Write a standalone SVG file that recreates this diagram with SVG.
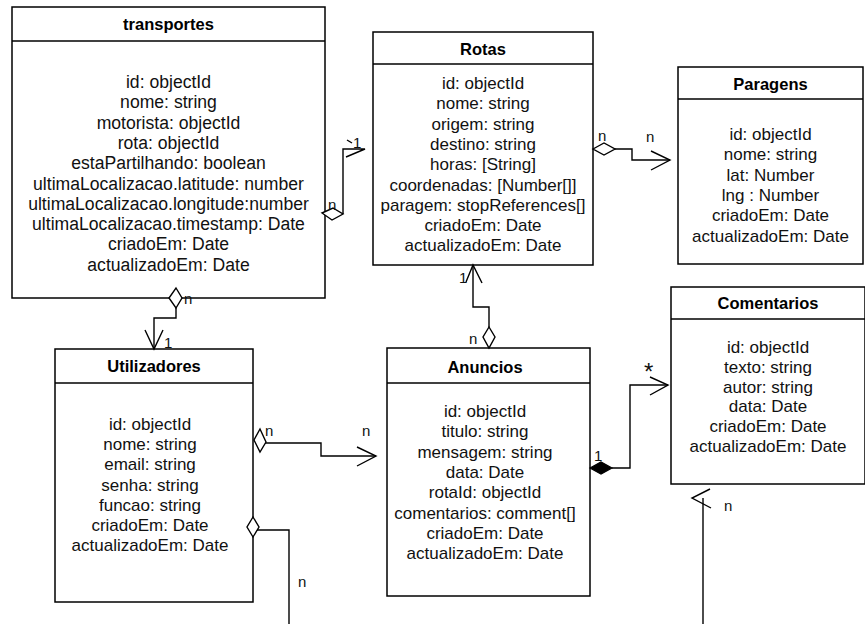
<svg xmlns="http://www.w3.org/2000/svg" width="865" height="624" viewBox="0 0 865 624">
<style>
.box{fill:#fff;stroke:#000;stroke-width:1.5}
.hl{stroke:#000;stroke-width:1.5}
.t{font-family:"Liberation Sans",Arial,sans-serif;font-size:17px;text-anchor:middle;fill:#111}
.tw{font-size:17.6px}
.h{font-family:"Liberation Sans",Arial,sans-serif;font-size:16.5px;font-weight:bold;text-anchor:middle;fill:#000}
.c{fill:none;stroke:#000;stroke-width:1.4}
.d{fill:#fff;stroke:#000;stroke-width:1.4}
.f{fill:#000;stroke:#000;stroke-width:1.2}
.l{font-family:"Liberation Sans",Arial,sans-serif;font-size:15px;fill:#111}
</style>
<rect width="865" height="624" fill="#fff"/>
<g id="transportes">
<rect class="box" x="12" y="7" width="313" height="291"/>
<line class="hl" x1="12" y1="41" x2="325" y2="41"/>
<text class="h" x="168.5" y="30">transportes</text>
<text class="t tw" x="168.5" y="88">id: objectId</text>
<text class="t tw" x="168.5" y="108.3">nome: string</text>
<text class="t tw" x="168.5" y="128.6">motorista: objectId</text>
<text class="t tw" x="168.5" y="148.9">rota: objectId</text>
<text class="t tw" x="168.5" y="169.2">estaPartilhando: boolean</text>
<text class="t tw" x="168.5" y="189.5">ultimaLocalizacao.latitude: number</text>
<text class="t tw" x="168.5" y="209.8">ultimaLocalizacao.longitude:number</text>
<text class="t tw" x="168.5" y="230.1">ultimaLocalizacao.timestamp: Date</text>
<text class="t tw" x="168.5" y="250.4">criadoEm: Date</text>
<text class="t tw" x="168.5" y="270.7">actualizadoEm: Date</text>
</g>
<g id="Rotas">
<rect class="box" x="373" y="32" width="220" height="233"/>
<line class="hl" x1="373" y1="64" x2="593" y2="64"/>
<text class="h" x="483" y="55">Rotas</text>
<text class="t" x="483" y="89">id: objectId</text>
<text class="t" x="483" y="109.3">nome: string</text>
<text class="t" x="483" y="129.6">origem: string</text>
<text class="t" x="483" y="149.9">destino: string</text>
<text class="t" x="483" y="170.2">horas: [String]</text>
<text class="t" x="483" y="190.5">coordenadas: [Number[]]</text>
<text class="t" x="483" y="210.8">paragem: stopReferences[]</text>
<text class="t" x="483" y="231.1">criadoEm: Date</text>
<text class="t" x="483" y="251.4">actualizadoEm: Date</text>
</g>
<g id="Paragens">
<rect class="box" x="678" y="67" width="185" height="197"/>
<line class="hl" x1="678" y1="99" x2="863" y2="99"/>
<text class="h" x="770.5" y="90">Paragens</text>
<text class="t" x="770.5" y="140">id: objectId</text>
<text class="t" x="770.5" y="160.3">nome: string</text>
<text class="t" x="770.5" y="180.6">lat: Number</text>
<text class="t" x="770.5" y="200.9">lng : Number</text>
<text class="t" x="770.5" y="221.2">criadoEm: Date</text>
<text class="t" x="770.5" y="241.5">actualizadoEm: Date</text>
</g>
<g id="Comentarios">
<rect class="box" x="671" y="287" width="194" height="197"/>
<line class="hl" x1="671" y1="319" x2="865" y2="319"/>
<text class="h" x="768" y="309">Comentarios</text>
<text class="t" x="768" y="353">id: objectId</text>
<text class="t" x="768" y="372.8">texto: string</text>
<text class="t" x="768" y="392.6">autor: string</text>
<text class="t" x="768" y="412.4">data: Date</text>
<text class="t" x="768" y="432.2">criadoEm: Date</text>
<text class="t" x="768" y="452">actualizadoEm: Date</text>
</g>
<g id="Utilizadores">
<rect class="box" x="55" y="349" width="198" height="253"/>
<line class="hl" x1="55" y1="383" x2="253" y2="383"/>
<text class="h" x="154" y="372">Utilizadores</text>
<text class="t" x="150" y="430">id: objectId</text>
<text class="t" x="150" y="450.2">nome: string</text>
<text class="t" x="150" y="470.4">email: string</text>
<text class="t" x="150" y="490.6">senha: string</text>
<text class="t" x="150" y="510.8">funcao: string</text>
<text class="t" x="150" y="531">criadoEm: Date</text>
<text class="t" x="150" y="551.2">actualizadoEm: Date</text>
</g>
<g id="Anuncios">
<rect class="box" x="387" y="348" width="203" height="248"/>
<line class="hl" x1="387" y1="383" x2="590" y2="383"/>
<text class="h" x="485" y="373">Anuncios</text>
<text class="t" x="485" y="417">id: objectId</text>
<text class="t" x="485" y="437.3">titulo: string</text>
<text class="t" x="485" y="457.6">mensagem: string</text>
<text class="t" x="485" y="477.9">data: Date</text>
<text class="t" x="485" y="498.2">rotaId: objectId</text>
<text class="t" x="485" y="518.5">comentarios: comment[]</text>
<text class="t" x="485" y="538.8">criadoEm: Date</text>
<text class="t" x="485" y="559.1">actualizadoEm: Date</text>
</g>
<g id="connectors">
<path class="c" d="M343,214 V149 H365 L346,157"/>
<path class="c" d="M347,140 L352,143"/>
<polygon class="d" points="322,213 333,208 343,214 332,220"/>
<text class="l" x="328" y="210">n</text>
<text class="l" x="353" y="148">1</text>
<path class="c" d="M615,149 H632 V160 H670"/>
<path class="c" d="M651,151 L670,160 L651,170"/>
<polygon class="d" points="593,149 604,143 615,149 604,155"/>
<text class="l" x="598" y="141">n</text>
<text class="l" x="646" y="142">n</text>
<path class="c" d="M176,308 V318 H154 V349"/>
<path class="c" d="M145,330 L154,349 L163,330"/>
<polygon class="d" points="176,288 182,298 176,308 169,298"/>
<text class="l" x="184" y="304">n</text>
<text class="l" x="164" y="348">1</text>
<path class="c" d="M489,327 V307 H473 V265"/>
<path class="c" d="M466,282 L473,265 L482,283"/>
<polygon class="d" points="489,327 495,337 489,348 483,337"/>
<text class="l" x="469" y="344">n</text>
<text class="l" x="459" y="283">1</text>
<path class="c" d="M265,443 H321 V456 H376"/>
<path class="c" d="M357,447 L376,456 L357,466"/>
<polygon class="d" points="254,440 260,429 266,442 260,452"/>
<text class="l" x="265" y="436">n</text>
<text class="l" x="362" y="436">n</text>
<path class="c" d="M612,468 H630 V385 H668"/>
<path class="c" d="M650,377 L668,385 L650,395"/>
<polygon class="f" points="590,468 601,462 612,468 601,474"/>
<text class="l" x="594" y="461">1</text>
<text class="l" x="644" y="380" style="font-size:24px">*</text>
<path class="c" d="M255,530 H289 V624"/>
<polygon class="d" points="253,517 259,527 253,537 247,527"/>
<text class="l" x="298" y="587">n</text>
<path class="c" d="M703,498 V624"/>
<path class="c" d="M710,489 L692,498 L711,508"/>
<text class="l" x="724" y="511">n</text>
</g>
</svg>
